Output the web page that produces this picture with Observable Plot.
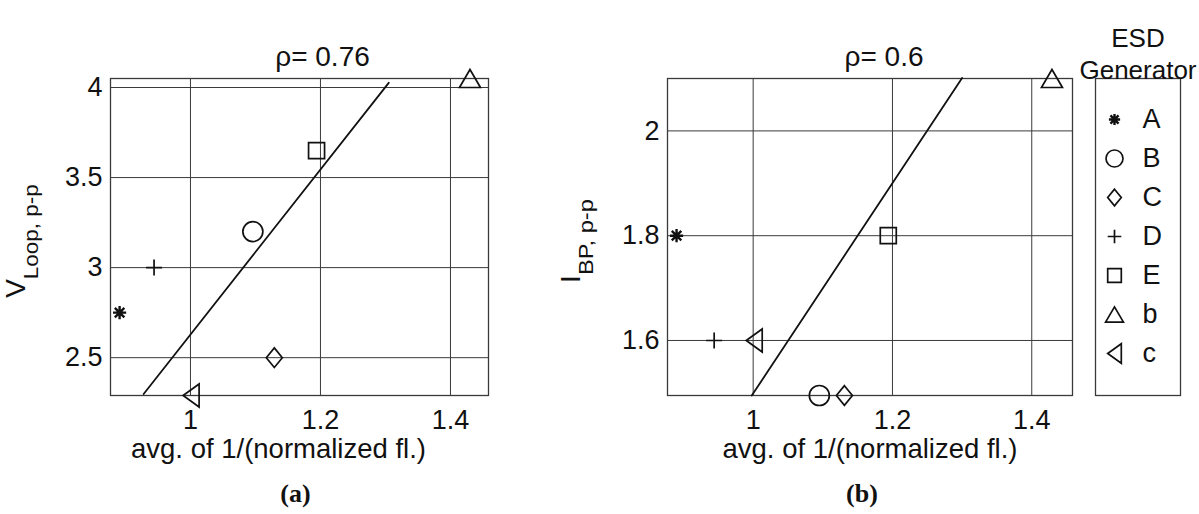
<!DOCTYPE html>
<html>
<head>
<meta charset="utf-8">
<script src="https://cdn.jsdelivr.net/npm/d3@7"></script>
<script src="https://cdn.jsdelivr.net/npm/@observablehq/plot@0.6"></script>
<style>
  body { margin: 0; background: #fff; }
  #fig { position: relative; width: 1199px; height: 514px; font-family: "Liberation Sans", Arial, sans-serif; }
  #fig svg { position: absolute; top: 0; overflow: visible; }
</style>
</head>
<body>
<div id="fig"></div>
<script>
// ESD generators and the two measured quantities against avg. of 1/(normalized fl.)
const generators = ["A", "B", "C", "D", "E", "b", "c"];
const invFlA = [0.891, 1.096, 1.129, 0.944, 1.194, 1.430, 1.001];
const vLoop  = [2.75, 3.20, 2.50, 3.00, 3.65, 4.05, 2.29];
const invFlB = [0.890, 1.095, 1.131, 0.944, 1.194, 1.429, 1.0015];
const iBP    = [1.80, 1.495, 1.495, 1.60, 1.80, 2.10, 1.60];

// least-squares fit lines (end points)
const fitAx = [0.928, 1.305], fitAy = [2.298, 4.026];
const fitBx = [0.998, 1.300], fitBy = [1.495, 2.101];

const rho = [0.76, 0.6];
const xTicks = [1, 1.2, 1.4];
const yTicksA = [2.5, 3, 3.5, 4];
const yTicksB = [1.6, 1.8, 2];
const xDomain = [0.877, 1.4585];
const xLabel = "avg. of 1/(normalized fl.)";

// marker shapes (size → radius R = sqrt(size/π))
const R = s => Math.sqrt(s / Math.PI);
const shapes = [
  {draw(c, s) { const r = R(s) * 0.66, d = r * 0.72;
    c.moveTo(-r, 0); c.lineTo(r, 0); c.moveTo(0, -r); c.lineTo(0, r);
    c.moveTo(-d, -d); c.lineTo(d, d); c.moveTo(-d, d); c.lineTo(d, -d); }},
  {draw(c, s) { const r = R(s); c.moveTo(r, 0); c.arc(0, 0, r, 0, 2 * Math.PI); c.closePath(); }},
  {draw(c, s) { const r = R(s); c.moveTo(0, -0.98 * r); c.lineTo(0.8 * r, 0); c.lineTo(0, 0.98 * r); c.lineTo(-0.8 * r, 0); c.closePath(); }},
  {draw(c, s) { const r = R(s) * 0.8; c.moveTo(-r, 0); c.lineTo(r, 0); c.moveTo(0, -r); c.lineTo(0, r); }},
  {draw(c, s) { const r = R(s) * 0.8; c.moveTo(-r, -r); c.lineTo(r, -r); c.lineTo(r, r); c.lineTo(-r, r); c.closePath(); }},
  {draw(c, s) { const r = R(s); c.moveTo(0, -0.9 * r); c.lineTo(1.05 * r, 0.9 * r); c.lineTo(-1.05 * r, 0.9 * r); c.closePath(); }},
  {draw(c, s) { const r = R(s); c.moveTo(-0.8 * r, 0); c.lineTo(0.8 * r, -1.15 * r); c.lineTo(0.8 * r, 1.15 * r); c.closePath(); }}
];
const symbolScale = {domain: generators, range: shapes};
// the asterisk is drawn heavier than the outlined markers
const markerWeight = g => (g === "A" ? 2.4 : 1.7);

const sans = "'Liberation Sans', Arial, sans-serif";
const ink = "#111";
const gridInk = "#3a3a3a";
const fmt = d => `${d}`;

function panel({xs, ys, fx, fy, yTicks, r, tag, left, width, marginLeft, marginRight,
                titleDx, labelDx, tagDx, yMain, ySub, ySubLen, yLabelX}) {
  const pts = generators.map((g, i) => ({g, x: xs[i], y: ys[i]}));
  const fit = fx.map((x, i) => ({x, y: fy[i]}));
  const svg = Plot.plot({
    width, height: 514,
    marginLeft, marginRight, marginTop: 78, marginBottom: 119,
    style: {fontFamily: sans, color: ink, background: "transparent", overflow: "visible"},
    x: {domain: xDomain, label: null},
    y: {domain: d3.extent(ys), label: null},
    symbol: symbolScale,
    marks: [
      Plot.gridX(xTicks, {stroke: gridInk, strokeOpacity: 1, strokeWidth: 1}),
      Plot.gridY(yTicks, {stroke: gridInk, strokeOpacity: 1, strokeWidth: 1}),
      Plot.frame({stroke: gridInk, strokeWidth: 1.3}),
      Plot.axisX(xTicks, {tickSize: 0, tickPadding: 14, fontSize: 27, label: null, fill: ink, tickFormat: fmt}),
      Plot.axisY(yTicks, {tickSize: 0, tickPadding: 8, fontSize: 27, label: null, fill: ink, tickFormat: fmt}),
      Plot.line(fit, {x: "x", y: "y", stroke: ink, strokeWidth: 1.8}),
      Plot.dot(pts, {x: "x", y: "y", symbol: "g", r: 10, fill: "none", stroke: ink,
                     strokeWidth: d => markerWeight(d.g)}),
      Plot.text([`ρ= ${r}`], {frameAnchor: "top", dy: -32, dx: titleDx, fontSize: 28, fill: ink}),
      Plot.text([xLabel], {frameAnchor: "bottom", dy: 62, dx: labelDx, fontSize: 27.5, fill: ink}),
      Plot.text([tag], {frameAnchor: "bottom", dy: 106, dx: tagDx, fontSize: 26, fontWeight: "bold",
                        fontFamily: "'Liberation Serif', 'Times New Roman', serif", fill: ink})
    ]
  });
  svg.style.left = left + "px";
  // y label with subscript
  const t = d3.select(svg).append("text")
    .attr("transform", `translate(${yLabelX},${241}) rotate(-90)`)
    .attr("text-anchor", "middle")
    .attr("fill", ink)
    .attr("font-family", sans);
  t.append("tspan").attr("font-size", 28).text(yMain);
  t.append("tspan").attr("font-size", 20).attr("dy", 13)
    .attr("textLength", ySubLen).attr("lengthAdjust", "spacingAndGlyphs").text(ySub);
  return svg;
}

const fig = document.getElementById("fig");

fig.append(panel({
  xs: invFlA, ys: vLoop, fx: fitAx, fy: fitAy, yTicks: yTicksA, r: rho[0], tag: "(a)",
  left: 0, width: 560, marginLeft: 110, marginRight: 72,
  titleDx: 23, labelDx: -21, tagDx: -4,
  yMain: "V", ySub: "Loop, p-p", ySubLen: 95, yLabelX: 25
}));

fig.append(panel({
  xs: invFlB, ys: iBP, fx: fitBx, fy: fitBy, yTicks: yTicksB, r: rho[1], tag: "(b)",
  left: 560, width: 520, marginLeft: 107, marginRight: 8,
  titleDx: 14, labelDx: 0, tagDx: -8,
  yMain: "I", ySub: "BP, p-p", ySubLen: 76, yLabelX: 20
}));

// legend: one row per generator
const legend = Plot.plot({
  width: 119, height: 514,
  marginLeft: 15, marginRight: 19, marginTop: 78, marginBottom: 119,
  style: {fontFamily: sans, color: ink, background: "transparent", overflow: "visible"},
  x: {axis: null, domain: [0, 1]},
  y: {type: "point", domain: generators, axis: null, insetTop: 19, insetBottom: 20},
  symbol: symbolScale,
  marks: [
    Plot.frame({stroke: gridInk, strokeWidth: 1.3}),
    Plot.dot(generators, {y: d => d, symbol: d => d, frameAnchor: "left", dx: 19, r: 8.5,
                          fill: "none", stroke: ink, strokeWidth: d => markerWeight(d)}),
    Plot.text(generators, {y: d => d, text: d => d, frameAnchor: "left", dx: 47, textAnchor: "start",
                           fontSize: 27, fill: ink}),
    Plot.text(["ESD"], {frameAnchor: "top", dy: -50, fontSize: 26, fill: ink}),
    Plot.text(["Generator"], {frameAnchor: "top", dy: -18, fontSize: 26, fill: ink})
  ]
});
legend.style.left = "1080px";
fig.append(legend);
</script>
</body>
</html>
